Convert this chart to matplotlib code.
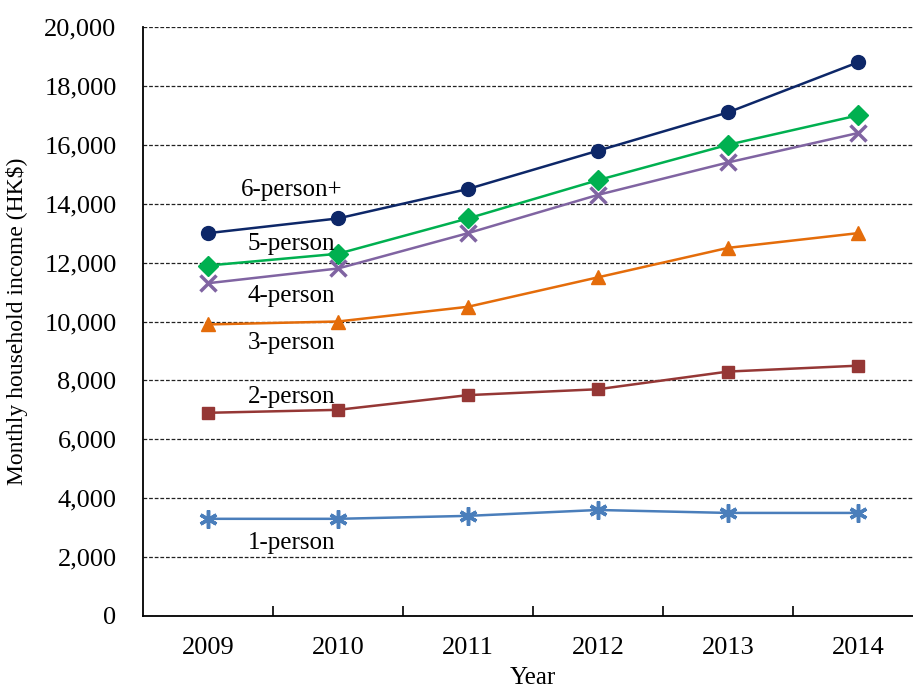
import numpy as np
import matplotlib
matplotlib.use("Agg")
import matplotlib.pyplot as plt
from matplotlib.ticker import FuncFormatter, FixedLocator

# Datos del gráfico
years = ["2009", "2010", "2011", "2012", "2013", "2014"]
person_1 = [3300, 3300, 3400, 3600, 3500, 3500]
person_2 = [6900, 7000, 7500, 7700, 8300, 8500]
person_3 = [9900, 10000, 10500, 11500, 12500, 13000]
person_4 = [11300, 11800, 13000, 14300, 15400, 16400]
person_5 = [11900, 12300, 13500, 14800, 16000, 17000]
person_6 = [13000, 13500, 14500, 15800, 17100, 18800]
series_names = ["1-person", "2-person", "3-person", "4-person", "5-person", "6-person+"]
label_y = [2480, 7440, 9270, 10870, 12630, 14470]

plt.rcParams['font.family'] = ['Liberation Serif', 'DejaVu Serif']

fig = plt.figure(figsize=(9.13, 6.92), dpi=100)
ax = fig.add_axes([143 / 913, 1 - 616 / 692, 780 / 913, 589 / 692])

x = np.arange(len(years))
series = [person_1, person_2, person_3, person_4, person_5, person_6]
colors = ["#4A7EBB", "#953735", "#E46C0A", "#8064A2", "#00B050", "#0D2768"]
markers = [(6, 2, 0), "s", "^", "x", "D", "o"]
msizes = [13, 9, 10, 11, 10, 10]
mews = [2.5, 1, 1, 2.5, 1, 1]

for vals, c, m, ms, mew in zip(series, colors, markers, msizes, mews):
    ax.plot(x, vals, color=c, marker=m, markersize=ms, markeredgewidth=mew,
            markeredgecolor=c, markerfacecolor=c, linewidth=1.8, zorder=3)

# Etiquetas de las series
for name, yv in zip(series_names, label_y):
    ax.text(0.64, yv, name, fontsize=18, ha="center", va="center", zorder=4)

ax.set_xlim(-0.5, 5.5)
ax.set_ylim(0, 20000)
ax.set_yticks(np.arange(0, 20001, 2000))
ax.yaxis.set_major_formatter(FuncFormatter(lambda v, p: f"{int(v):,}"))
ax.set_xticks(x)
ax.set_xticklabels(years)
ax.xaxis.set_minor_locator(FixedLocator(np.arange(0.5, 5.0, 1.0)))
ax.tick_params(axis="x", which="major", length=0, pad=15, labelsize=19)
ax.tick_params(axis="x", which="minor", direction="in", length=7, width=1.2)
ax.tick_params(axis="y", length=0, pad=19, labelsize=19)

ax.grid(axis="y", linestyle=(0, (3, 1.5)), color="#222222", linewidth=0.9)
ax.set_axisbelow(True)
for s in ["top", "right"]:
    ax.spines[s].set_visible(False)
ax.spines["left"].set_linewidth(1.3)
ax.spines["bottom"].set_linewidth(1.3)

ax.set_xlabel("Year", fontsize=18, labelpad=6)
ax.set_ylabel("Monthly household income (HK$)", fontsize=17, labelpad=12)

fig.savefig("out.png", dpi=100)
